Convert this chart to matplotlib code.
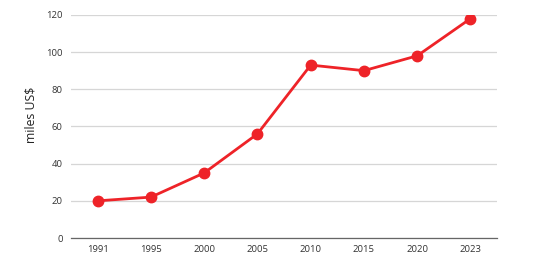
import matplotlib
matplotlib.use("Agg")
import matplotlib.pyplot as plt

years = ["1991", "1995", "2000", "2005", "2010", "2015", "2020", "2023"]
values = [20, 22, 35, 56, 93, 90, 98, 118]
yticks = [0, 20, 40, 60, 80, 100, 120]

plt.rcParams['font.family'] = ['Open Sans', 'DejaVu Sans']

fig = plt.figure(figsize=(5.38, 2.61), dpi=100)
ax = fig.add_axes([0.132, 0.088, 0.792, 0.855])

x = list(range(len(years)))
ax.plot(x, values, color="#ee2328", linewidth=2, marker="o", markersize=7.5, zorder=3)

ax.set_xlim(-0.5, len(years) - 0.5)
ax.set_ylim(0, 120)
ax.set_yticks(yticks)
ax.set_yticklabels([str(v) for v in yticks])
ax.set_xticks(x)
ax.set_xticklabels(years)

ax.grid(axis="y", color="#d6d6d6", linewidth=0.9)
ax.set_axisbelow(True)
for s in ["top", "right", "left"]:
    ax.spines[s].set_visible(False)
ax.spines["bottom"].set_color("#666666")
ax.spines["bottom"].set_linewidth(0.9)
ax.tick_params(axis="both", length=0, labelsize=6.8, colors="#333333", pad=5)
ax.tick_params(axis="y", pad=6)
ax.set_ylabel("miles US$", fontsize=8.8, color="#222222")
ax.yaxis.set_label_coords(-0.078, 0.55)

fig.savefig("out.png", dpi=100)
